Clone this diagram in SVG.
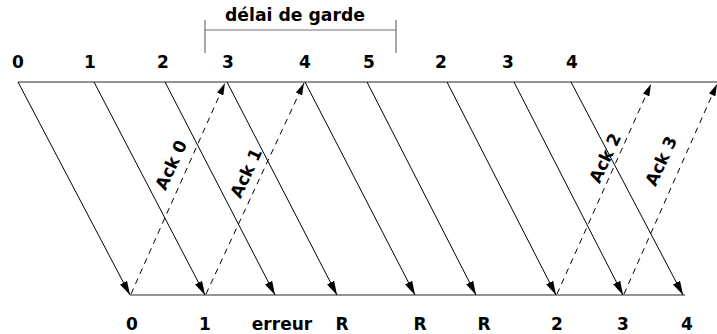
<svg xmlns="http://www.w3.org/2000/svg" width="717" height="334" viewBox="0 0 717 334">
  <style>
    .lbl { font-family: "DejaVu Sans", "Liberation Sans", sans-serif; font-weight: bold; font-size: 17px; fill: #000; text-anchor: middle; }
    .axis { stroke: #707070; stroke-width: 1.6; fill: none; }
    .brk { stroke: #707070; stroke-width: 1.2; fill: none; }
    .frame { stroke: #000; stroke-width: 1; fill: none; marker-end: url(#ah); }
    .ack { stroke: #000; stroke-width: 1; fill: none; stroke-dasharray: 6 5; marker-end: url(#ahd); }
  </style>
  <defs>
    <marker id="ah" viewBox="0 0 14 8" refX="14" refY="4" markerWidth="14" markerHeight="8" markerUnits="userSpaceOnUse" orient="auto">
      <path d="M0,0 L14,4 L0,8 z" fill="#000" stroke="none"/>
    </marker>
    <marker id="ahd" viewBox="0 0 12 7" refX="12" refY="3.5" markerWidth="12" markerHeight="7" markerUnits="userSpaceOnUse" orient="auto">
      <path d="M0,0 L12,3.5 L0,7 z" fill="#000" stroke="none"/>
    </marker>
  </defs>
  <rect width="717" height="334" fill="#fff"/>

  <g id="guard">
    <path class="brk" d="M205,20 V53 M205,30 H396 M396,20 V53"/>
    <text class="lbl" x="295" y="21" textLength="140" lengthAdjust="spacingAndGlyphs">délai de garde</text>
  </g>

  <g id="sender">
    <line class="axis" x1="18" y1="82" x2="717" y2="82"/>
    <text class="lbl" x="18" y="68">0</text>
    <text class="lbl" x="90" y="68">1</text>
    <text class="lbl" x="163" y="68">2</text>
    <text class="lbl" x="228" y="68">3</text>
    <text class="lbl" x="305" y="68">4</text>
    <text class="lbl" x="369" y="68">5</text>
    <text class="lbl" x="441" y="68">2</text>
    <text class="lbl" x="508" y="68">3</text>
    <text class="lbl" x="572" y="68">4</text>
  </g>

  <g id="receiver">
    <line class="axis" x1="130" y1="295" x2="685" y2="295"/>
    <text class="lbl" x="132" y="330">0</text>
    <text class="lbl" x="205" y="330">1</text>
    <text class="lbl" x="282" y="330">erreur</text>
    <text class="lbl" x="342" y="330">R</text>
    <text class="lbl" x="420" y="330">R</text>
    <text class="lbl" x="484" y="330">R</text>
    <text class="lbl" x="557" y="330">2</text>
    <text class="lbl" x="623" y="330">3</text>
    <text class="lbl" x="687" y="330">4</text>
  </g>

  <g id="connectors">
    <line class="frame" x1="18" y1="82" x2="130" y2="295"/>
    <line class="frame" x1="94" y1="82" x2="205" y2="295"/>
    <line class="frame" x1="165" y1="82" x2="275" y2="295"/>
    <line class="frame" x1="227" y1="82" x2="337" y2="295"/>
    <line class="frame" x1="305" y1="82" x2="415" y2="295"/>
    <line class="frame" x1="367" y1="82" x2="476" y2="295"/>
    <line class="frame" x1="447" y1="82" x2="556" y2="295"/>
    <line class="frame" x1="514" y1="82" x2="623" y2="295"/>
    <line class="frame" x1="571" y1="82" x2="683" y2="295"/>

    <line class="ack" x1="131" y1="294" x2="225" y2="83"/>
    <line class="ack" x1="206" y1="294" x2="304" y2="83"/>
    <line class="ack" x1="557" y1="294" x2="651" y2="84"/>
    <line class="ack" x1="624" y1="294" x2="717" y2="84"/>

    <text class="lbl" transform="translate(171,165) rotate(-65)" x="0" y="6">Ack 0</text>
    <text class="lbl" transform="translate(246,173) rotate(-65)" x="0" y="6">Ack 1</text>
    <text class="lbl" transform="translate(605,158) rotate(-65)" x="0" y="6">Ack 2</text>
    <text class="lbl" transform="translate(661,161) rotate(-65)" x="0" y="6">Ack 3</text>
  </g>
</svg>
